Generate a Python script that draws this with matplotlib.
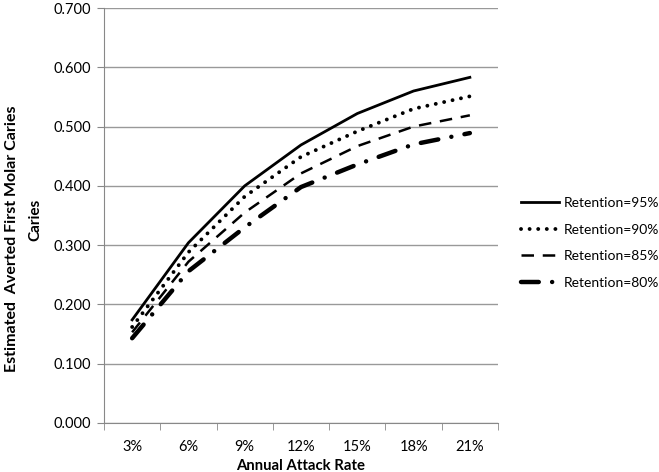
import matplotlib
matplotlib.use("Agg")
import matplotlib.pyplot as plt
from matplotlib.ticker import FixedLocator, NullFormatter

plt.rcParams['font.family'] = ['Lato', 'DejaVu Sans']

categories = ["3%", "6%", "9%", "12%", "15%", "18%", "21%"]
ret95 = [0.174, 0.304, 0.400, 0.469, 0.522, 0.560, 0.583]
ret90 = [0.162, 0.288, 0.382, 0.449, 0.492, 0.530, 0.551]
ret85 = [0.153, 0.272, 0.355, 0.421, 0.467, 0.500, 0.519]
ret80 = [0.143, 0.256, 0.330, 0.398, 0.436, 0.470, 0.489]
labels = ["Retention=95%", "Retention=90%", "Retention=85%", "Retention=80%"]
yticks = [0.0, 0.1, 0.2, 0.3, 0.4, 0.5, 0.6, 0.7]

fig = plt.figure(figsize=(6.59, 4.72), dpi=100)
ax = fig.add_axes([104/659, 49/472, 394/659, 415/472])

x = list(range(len(categories)))
ax.plot(x, ret95, color='black', lw=2.0, linestyle='-', label=labels[0])
ax.plot(x, ret90, color='black', lw=2.8, linestyle=(0, (0.01, 2.2)), dash_capstyle='round', label=labels[1])
ax.plot(x, ret85, color='black', lw=1.8, linestyle=(0, (5, 3.5)), label=labels[2])
ax.plot(x, ret80, color='black', lw=3.2, linestyle=(0, (4, 3, 0.01, 3)), dash_capstyle='round', label=labels[3])

ax.set_xlim(-0.5, len(categories) - 0.5)
ax.set_ylim(0, 0.7)
ax.set_yticks(yticks)
ax.set_yticklabels([f"{v:.3f}" for v in yticks], fontsize=10.5)
ax.set_xticks(x)
ax.set_xticklabels(categories, fontsize=10.5)
ax.xaxis.set_minor_locator(FixedLocator([i - 0.5 for i in range(len(categories) + 1)]))
ax.xaxis.set_minor_formatter(NullFormatter())
ax.tick_params(axis='x', which='major', length=0, pad=12)
ax.tick_params(axis='x', which='minor', length=5, color='#888888', direction='out')
ax.tick_params(axis='y', length=5, color='#888888', direction='out', pad=4)

ax.grid(axis='y', color='#999999', lw=1.0)
ax.set_axisbelow(True)
for s in ['top', 'right']:
    ax.spines[s].set_visible(False)
ax.spines['left'].set_color('#888888')
ax.spines['bottom'].set_color('#888888')

ax.set_xlabel("Annual Attack Rate", fontsize=10.7, fontweight='bold', labelpad=4)
fig.text(12/659, 1 - 239/472, "Estimated  Averted First Molar Caries", rotation=90,
         ha='center', va='center', fontsize=11.5, fontweight='bold')
fig.text(35/659, 1 - 220/472, "Caries", rotation=90,
         ha='center', va='center', fontsize=11, fontweight='bold')

leg = fig.legend(loc='center left', bbox_to_anchor=(521/659, 1 - 243/472), frameon=False,
                 fontsize=10, handlelength=2.7, handletextpad=0.35, labelspacing=1.05,
                 borderpad=0, borderaxespad=0)

fig.savefig("out.png", dpi=100)
